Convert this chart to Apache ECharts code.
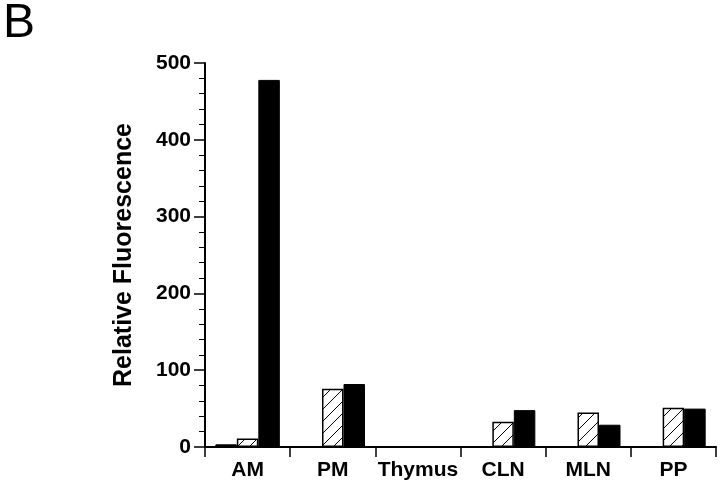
<!DOCTYPE html>
<html>
<head>
<meta charset="utf-8">
<script src="https://cdn.jsdelivr.net/npm/echarts@6/dist/echarts.min.js"></script>
<style>
html,body{margin:0;padding:0;background:#fff;}
#chart{width:720px;height:482px;}
</style>
</head>
<body>
<div id="chart"></div>
<script>
// ---- data ----
var categories = ['AM', 'PM', 'Thymus', 'CLN', 'MLN', 'PP'];
var seriesSmall = [3.5, 0, 0, 0, 0, 0];          // first bar (black)
var seriesHatched = [11, 76, 0.6, 33, 45, 51];  // hatched bar
var seriesBlack = [478, 82, 0.6, 48, 29, 50];   // black bar
var yTicks = [0, 100, 200, 300, 400, 500];

var FONT = '"Liberation Sans", Arial, Helvetica, sans-serif';

// hatch pattern
var pc = document.createElement('canvas');
pc.width = 12; pc.height = 12;
var ctx = pc.getContext('2d');
ctx.fillStyle = '#fff';
ctx.fillRect(0, 0, 12, 12);
ctx.strokeStyle = '#000';
ctx.lineWidth = 1;
ctx.beginPath();
ctx.moveTo(0, 12); ctx.lineTo(12, 0);
ctx.moveTo(-2, 2); ctx.lineTo(2, -2);
ctx.moveTo(10, 14); ctx.lineTo(14, 10);
ctx.stroke();

var chart = echarts.init(document.getElementById('chart'), null, {renderer: 'canvas'});
chart.setOption({
  backgroundColor: '#fff',
  animation: false,
  graphic: [{
    type: 'text', left: 3, top: 0,
    style: {text: 'B', font: '48px ' + FONT, fill: '#000'}
  }],
  grid: {left: 205, right: 4, top: 63, bottom: 35, containLabel: false},
  xAxis: {
    type: 'category',
    data: categories,
    axisLine: {lineStyle: {color: '#000', width: 2}},
    axisTick: {show: true, length: 10, lineStyle: {color: '#000', width: 1.5}},
    axisLabel: {interval: 0, color: '#000', fontSize: 21, fontWeight: 'bold', fontFamily: FONT, margin: 13}
  },
  yAxis: {
    type: 'value',
    min: yTicks[0], max: yTicks[yTicks.length - 1], interval: 100,
    name: 'Relative Fluorescence',
    nameLocation: 'middle',
    nameGap: 68,
    nameTextStyle: {color: '#000', fontSize: 25, fontWeight: 'bold', fontFamily: FONT},
    axisLine: {show: true, lineStyle: {color: '#000', width: 2}},
    axisTick: {show: true, length: 11, lineStyle: {color: '#000', width: 1.5}},
    minorTick: {show: true, splitNumber: 5, length: 6, lineStyle: {color: '#000', width: 1}},
    splitLine: {show: false},
    axisLabel: {color: '#000', fontSize: 21, fontWeight: 'bold', fontFamily: FONT, margin: 14}
  },
  series: [
    {type: 'bar', data: seriesSmall, barWidth: 21.5, barGap: '0%',
     itemStyle: {color: '#000', borderColor: '#000', borderWidth: 1}},
    {type: 'bar', data: seriesHatched, barWidth: 21.5, barGap: '0%',
     itemStyle: {color: {image: pc, repeat: 'repeat'}, borderColor: '#000', borderWidth: 1.5}},
    {type: 'bar', data: seriesBlack, barWidth: 21.5, barGap: '0%',
     itemStyle: {color: '#000', borderColor: '#000', borderWidth: 1}}
  ]
});
</script>
</body>
</html>
